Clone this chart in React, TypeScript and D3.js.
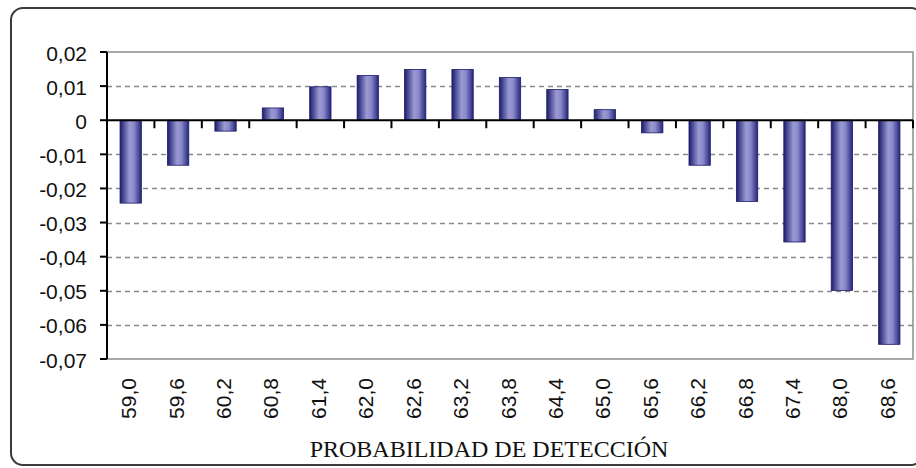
import { useRef, useEffect } from 'react'
import * as d3 from 'd3'

// Data
const categories = ['59,0', '59,6', '60,2', '60,8', '61,4', '62,0', '62,6', '63,2', '63,8',
  '64,4', '65,0', '65,6', '66,2', '66,8', '67,4', '68,0', '68,6']
const values = [-0.0243, -0.0132, -0.0032, 0.0036, 0.0098, 0.0131, 0.0149, 0.0149, 0.0125,
  0.009, 0.0031, -0.0037, -0.0132, -0.0238, -0.0357, -0.0499, -0.0657]
const yTicks = [0.02, 0.01, 0, -0.01, -0.02, -0.03, -0.04, -0.05, -0.06, -0.07]
const xTitle = 'PROBABILIDAD DE DETECCIÓN'

const W = 916
const H = 468

const App = () => {
  const svgRef = useRef<SVGSVGElement>(null)

  useEffect(() => {
    const svg = d3.select(svgRef.current)
    svg.selectAll('*').remove()

    const left = 107, right = 913, top = 52, bottom = 359

    const x = d3.scaleBand().domain(categories).range([left, right]).paddingInner(0.55).paddingOuter(0.275)
    const xBand = d3.scaleBand().domain(categories).range([left, right])
    const y = d3.scaleLinear().domain([-0.07, 0.02]).range([bottom, top])

    // outer rounded frame
    svg.append('rect')
      .attr('x', 11).attr('y', 8).attr('width', 912).attr('height', 457)
      .attr('rx', 12).attr('fill', 'white')
      .attr('stroke', '#3a3a3a').attr('stroke-width', 2)

    // gradient for bars
    const grad = svg.append('defs').append('linearGradient')
      .attr('id', 'barGrad').attr('x1', '0%').attr('x2', '100%').attr('y1', '0%').attr('y2', '0%')
    grad.append('stop').attr('offset', '0%').attr('stop-color', '#1c1c70')
    grad.append('stop').attr('offset', '45%').attr('stop-color', '#9a9ad2')
    grad.append('stop').attr('offset', '65%').attr('stop-color', '#8a8acc')
    grad.append('stop').attr('offset', '100%').attr('stop-color', '#26267c')

    // plot border (gray)
    svg.append('rect')
      .attr('x', left).attr('y', top).attr('width', right - left).attr('height', bottom - top)
      .attr('fill', 'none').attr('stroke', '#8c8c8c').attr('stroke-width', 1.5)

    // gridlines
    svg.append('g')
      .selectAll('line')
      .data(yTicks.filter(t => t !== 0 && t !== 0.02 && t !== -0.07))
      .enter()
      .append('line')
      .attr('x1', left).attr('x2', right)
      .attr('y1', d => Math.round(y(d)) + 0.5).attr('y2', d => Math.round(y(d)) + 0.5)
      .attr('stroke', '#8a8a8a').attr('stroke-width', 1.3)
      .attr('stroke-dasharray', '5,4')

    // bars
    svg.append('g')
      .selectAll('rect')
      .data(values)
      .enter()
      .append('rect')
      .attr('x', (_, i) => x(categories[i])!)
      .attr('width', x.bandwidth())
      .attr('y', d => y(Math.max(0, d)))
      .attr('height', d => Math.abs(y(d) - y(0)))
      .attr('fill', 'url(#barGrad)')
      .attr('stroke', '#1c1c6a').attr('stroke-width', 0.8)

    // zero line + category ticks
    svg.append('line')
      .attr('x1', left).attr('x2', right)
      .attr('y1', y(0)).attr('y2', y(0))
      .attr('stroke', 'black').attr('stroke-width', 2)
    svg.append('g')
      .selectAll('line')
      .data(categories.slice(1).concat(['end']))
      .enter()
      .append('line')
      .attr('x1', (_, i) => left + xBand.step() * (i + 1))
      .attr('x2', (_, i) => left + xBand.step() * (i + 1))
      .attr('y1', y(0)).attr('y2', y(0) + 8)
      .attr('stroke', 'black').attr('stroke-width', 2)

    // y axis
    svg.append('line')
      .attr('x1', left).attr('x2', left).attr('y1', top).attr('y2', bottom)
      .attr('stroke', 'black').attr('stroke-width', 2)
    const yg = svg.append('g')
    yg.selectAll('line')
      .data(yTicks)
      .enter()
      .append('line')
      .attr('x1', left - 7).attr('x2', left)
      .attr('y1', d => y(d)).attr('y2', d => y(d))
      .attr('stroke', 'black').attr('stroke-width', 2)
    yg.selectAll('text')
      .data(yTicks)
      .enter()
      .append('text')
      .attr('x', 87).attr('y', d => y(d) + 3)
      .attr('text-anchor', 'end').attr('dominant-baseline', 'middle')
      .attr('font-family', 'Liberation Sans, Arial, sans-serif').attr('font-size', 21)
      .attr('fill', '#111')
      .text(d => d === 0 ? '0' : d3.format('.2f')(d).replace('.', ',').replace('−', '-'))

    // x tick labels (rotated)
    svg.append('g')
      .selectAll('text')
      .data(categories)
      .enter()
      .append('text')
      .attr('transform', d => `translate(${x(d)! + x.bandwidth() / 2},378) rotate(-90)`)
      .attr('text-anchor', 'end').attr('dominant-baseline', 'middle')
      .attr('font-family', 'Liberation Sans, Arial, sans-serif').attr('font-size', 21)
      .attr('fill', '#111')
      .text(d => d)

    // x title
    svg.append('text')
      .attr('x', 489).attr('y', 457)
      .attr('text-anchor', 'middle')
      .attr('font-family', 'Liberation Serif, Times New Roman, serif').attr('font-size', 24)
      .attr('fill', '#111')
      .text(xTitle)
  }, [])

  return (
    <svg ref={svgRef} width={W} height={H}
      style={{ position: 'absolute', left: 0, top: 0, background: 'white' }}></svg>
  )
}
export default App
